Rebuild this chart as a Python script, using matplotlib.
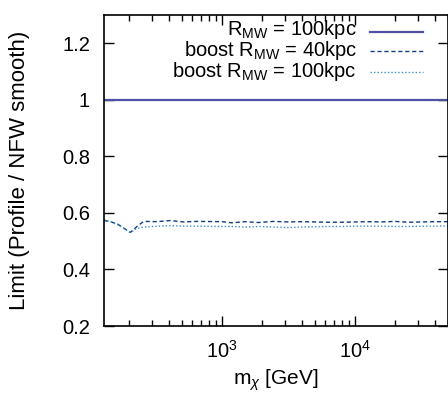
import numpy as np
import matplotlib
matplotlib.use("Agg")
import matplotlib.pyplot as plt
from matplotlib.ticker import LogLocator, NullFormatter, FixedLocator

plt.rcParams['font.family'] = ['Liberation Sans', 'DejaVu Sans']
plt.rcParams['mathtext.fontset'] = 'custom'
plt.rcParams['mathtext.rm'] = 'Liberation Sans'
plt.rcParams['mathtext.it'] = 'Liberation Sans:italic'

# masses [GeV]
mass = [130, 143, 165, 205, 230, 258, 325, 409, 515, 647, 1000, 1190, 1490,
        1890, 2450, 3150, 4000, 5000, 6300, 8000, 10000, 12500, 15800, 20000,
        25000, 31600, 40000, 50000]
nfw_100 = [1.0] * len(mass)
boost_40 = [0.573, 0.570, 0.560, 0.531, 0.552, 0.570, 0.569, 0.573, 0.568,
            0.570, 0.569, 0.565, 0.569, 0.566, 0.570, 0.568, 0.569, 0.568,
            0.567, 0.567, 0.568, 0.569, 0.568, 0.570, 0.567, 0.568, 0.569, 0.569]
boost_100 = [0.575, 0.570, 0.558, 0.531, 0.545, 0.550, 0.553, 0.555, 0.553,
             0.553, 0.552, 0.552, 0.550, 0.552, 0.550, 0.548, 0.550, 0.551,
             0.552, 0.552, 0.553, 0.553, 0.553, 0.552, 0.552, 0.553, 0.553, 0.554]

labels = [r'R$_{\rm MW}$ = 100kpc', r'boost R$_{\rm MW}$ = 40kpc',
          r'boost R$_{\rm MW}$ = 100kpc']

fig = plt.figure(figsize=(4.48, 4.00), dpi=100)
ax = fig.add_axes([104/448, 74/400, 344/448, 311/400])

c_solid = '#5050a4'
c_dash = '#10407f'
c_dot = '#3f90cc'

ax.plot(mass, nfw_100, color=c_solid, lw=1.6, ls='-')
ax.plot(mass, boost_40, color=c_dash, lw=1.0, ls=(0, (3, 2)))
ax.plot(mass, boost_100, color=c_dot, lw=1.0, ls=(0, (1, 1.5)))

ax.set_xscale('log')
ax.set_xlim(130, 50000)
ax.set_ylim(0.2, 1.30)
ax.yaxis.set_major_locator(FixedLocator([0.2, 0.4, 0.6, 0.8, 1.0, 1.2]))
ax.set_yticklabels(['0.2', '0.4', '0.6', '0.8', '1', '1.2'])
ax.xaxis.set_major_locator(LogLocator(base=10, numticks=10))
ax.xaxis.set_minor_locator(LogLocator(base=10, subs=np.arange(2, 10), numticks=20))
ax.xaxis.set_minor_formatter(NullFormatter())

ax.tick_params(which='both', direction='in', top=True, right=True, labelsize=14.5)
ax.tick_params(which='major', length=7, width=1)
ax.tick_params(which='minor', length=4, width=1)
ax.tick_params(axis='x', pad=10)
ax.tick_params(axis='y', pad=10)
for s in ax.spines.values():
    s.set_linewidth(1.2)

ax.set_xlabel(r'm$_\chi$ [GeV]', fontsize=15, labelpad=4)
ax.set_ylabel('Limit (Profile / NFW smooth)', fontsize=16, labelpad=23)

# key (top right)
text_rows = [0.936, 0.868, 0.800]
line_rows = [0.945, 0.884, 0.817]
styles = [(c_solid, '-', 1.6), (c_dash, (0, (3, 2)), 1.0), (c_dot, (0, (1, 1.5)), 1.0)]
for yt, yl, lab, (c, ls, lw) in zip(text_rows, line_rows, labels, styles):
    ax.text(0.735, yt, lab, transform=ax.transAxes, ha='right', va='baseline',
            fontsize=14.5)
    ax.plot([0.773, 0.927], [yl, yl], transform=ax.transAxes, color=c, ls=ls, lw=lw)

fig.savefig('out.png', dpi=100)
